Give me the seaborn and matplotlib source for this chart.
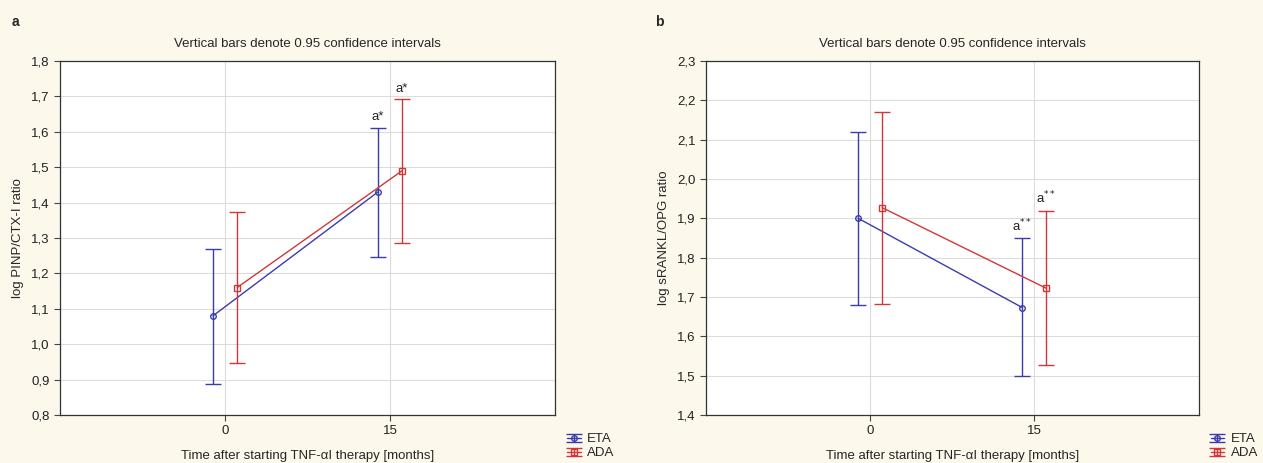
import numpy as np
import pandas as pd
import matplotlib
matplotlib.use('Agg')
import matplotlib.pyplot as plt
import seaborn as sns
from matplotlib.ticker import FuncFormatter
from matplotlib.legend_handler import HandlerErrorbar
from matplotlib.container import ErrorbarContainer

# data
time_points = [0, 15]
groups = ['ETA', 'ADA']

# panel a: log PINP/CTX-I ratio
a_eta_mean = [1.08, 1.43]
a_eta_lo = [0.887, 1.246]
a_eta_hi = [1.270, 1.612]
a_ada_mean = [1.16, 1.49]
a_ada_lo = [0.946, 1.285]
a_ada_hi = [1.372, 1.693]

# panel b: log sRANKL/OPG ratio
b_eta_mean = [1.90, 1.673]
b_eta_lo = [1.680, 1.499]
b_eta_hi = [2.120, 1.850]
b_ada_mean = [1.927, 1.722]
b_ada_lo = [1.682, 1.528]
b_ada_hi = [2.171, 1.919]

a_marks = ['a*', 'a*']
b_marks = [r'a$^{**}$', r'a$^{**}$']

sns.set_style('whitegrid')
plt.rcParams['font.family'] = ['Liberation Sans', 'DejaVu Sans']
plt.rcParams['font.size'] = 9.5
plt.rcParams['mathtext.fontset'] = 'dejavusans'

BG = '#fdf8ec'
colors = {'ETA': '#3b3bb0', 'ADA': '#d03838'}
markers = {'ETA': 'o', 'ADA': 's'}
offset = {'ETA': -1.1, 'ADA': 1.1}
FS = 9.5

fig = plt.figure(figsize=(12.63, 4.63), dpi=100, facecolor=BG)
ax_a = fig.add_axes([0.0475, 0.1037, 0.392, 0.7646])
ax_b = fig.add_axes([0.559, 0.1037, 0.390, 0.7646])


def draw_panel(ax, data, ylim, ylabel, marks):
    handles = []
    for g in groups:
        mean, lo, hi = data[g]
        df = pd.DataFrame({'x': np.array(time_points) + offset[g], 'y': mean})
        sns.lineplot(data=df, x='x', y='y', ax=ax, color=colors[g], marker=markers[g],
                     markersize=4, markerfacecolor='none', markeredgecolor=colors[g],
                     markeredgewidth=1, linewidth=1)
        ax.errorbar(df['x'], mean,
                    yerr=[np.array(mean) - np.array(lo), np.array(hi) - np.array(mean)],
                    fmt='none', ecolor=colors[g], elinewidth=1, capsize=5.8, capthick=1)
        # legend-only proxy (line + marker + bar + caps), draws nothing on the axes
        proxy = ax.errorbar([np.nan], [np.nan], yerr=[[np.nan], [np.nan]],
                            fmt='-' + markers[g], color=colors[g], ms=4, mfc='none',
                            mew=1, lw=1, elinewidth=1, capsize=5.8, capthick=1)
        handles.append(proxy)
        # significance mark above the 15-month bar
        ax.annotate(marks[1], (df['x'].iloc[1], hi[1]), xytext=(0, 3),
                    textcoords='offset points', ha='center', va='bottom',
                    fontsize=FS, color='#222222')
    ax.set_xlim(-15, 30)
    ax.set_ylim(*ylim)
    ax.set_xticks(time_points)
    ax.set_yticks(np.round(np.arange(ylim[0], ylim[1] + 0.001, 0.1), 1))
    ax.yaxis.set_major_formatter(FuncFormatter(lambda v, p: f'{v:.1f}'.replace('.', ',')))
    ax.set_xlabel('Time after starting TNF-\u03b1I therapy [months]', fontsize=FS, labelpad=9)
    ax.set_ylabel(ylabel, fontsize=FS, labelpad=5)
    ax.set_title('Vertical bars denote 0.95 confidence intervals', fontsize=FS, pad=10)
    ax.grid(True, color='#dcdcdc', linewidth=0.8)
    ax.tick_params(axis='both', length=4, width=0.8, color='#444444', labelsize=FS,
                   labelcolor='#222222', direction='out', left=True, bottom=True)
    for s in ax.spines.values():
        s.set_visible(True)
        s.set_color('#333333')
        s.set_linewidth(0.9)
    ax.set_facecolor('white')
    ax.legend(handles, groups,
              handler_map={ErrorbarContainer: HandlerErrorbar(xerr_size=0.5, yerr_size=0.3)},
              loc='upper left', bbox_to_anchor=(1.025, -0.051), frameon=False,
              fontsize=FS, handlelength=1.0, handleheight=0.7, borderpad=0,
              handletextpad=0.5, labelspacing=0.15, borderaxespad=0)


draw_panel(ax_a,
           {'ETA': (a_eta_mean, a_eta_lo, a_eta_hi), 'ADA': (a_ada_mean, a_ada_lo, a_ada_hi)},
           (0.8, 1.8), 'log PINP/CTX-I ratio', a_marks)
draw_panel(ax_b,
           {'ETA': (b_eta_mean, b_eta_lo, b_eta_hi), 'ADA': (b_ada_mean, b_ada_lo, b_ada_hi)},
           (1.4, 2.3), 'log sRANKL/OPG ratio', b_marks)

fig.text(0.0095, 0.952, 'a', fontsize=10, fontweight='bold', va='center')
fig.text(0.519, 0.952, 'b', fontsize=10, fontweight='bold', va='center')

fig.savefig('out.png', dpi=100, facecolor=BG)
